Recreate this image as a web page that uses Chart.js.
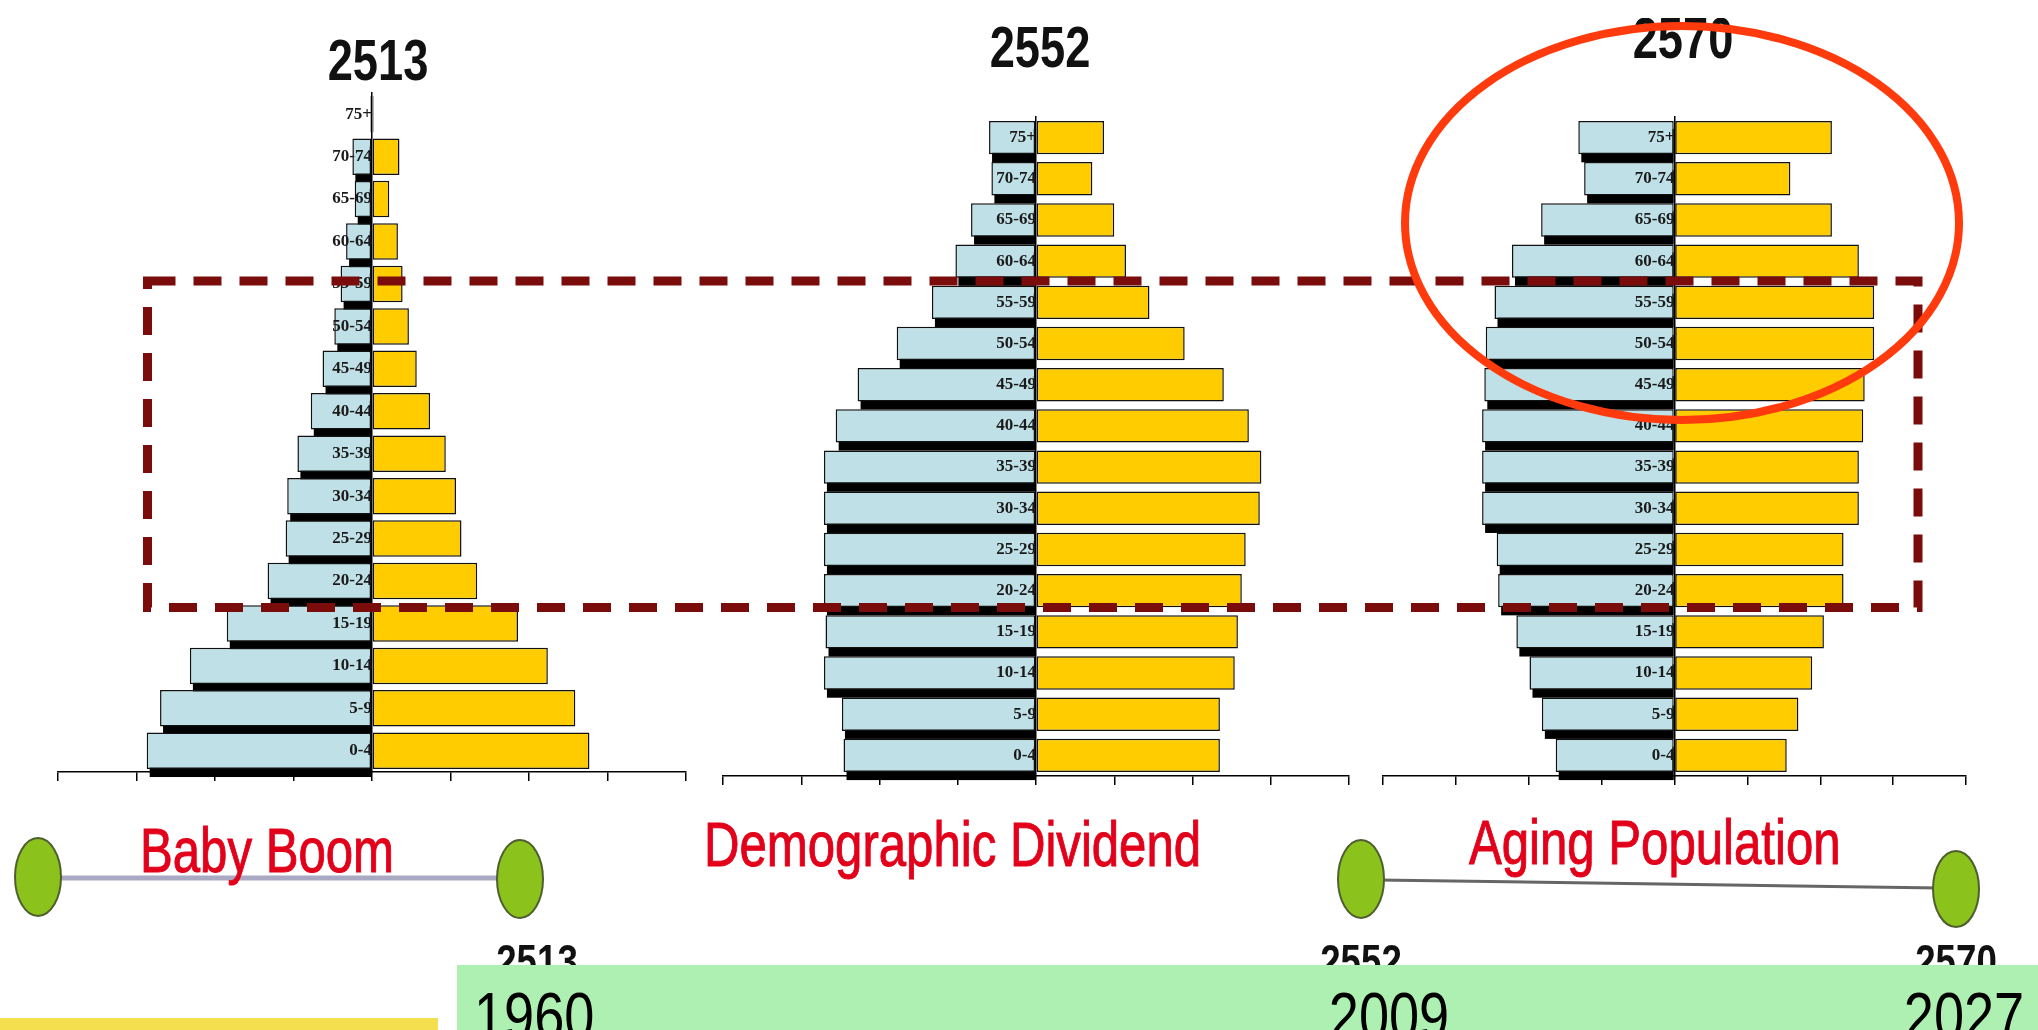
<!DOCTYPE html>
<html>
<head>
<meta charset="utf-8">
<script src="https://cdn.jsdelivr.net/npm/chart.js@4.4.1/dist/chart.umd.min.js"></script>
<style>
  html, body { margin:0; padding:0; background:#ffffff; width:2038px; height:1030px; overflow:hidden; }
  body { position:relative; }
  .cv { position:absolute; }
  .txt { position:absolute; white-space:nowrap; line-height:1;
         font-family:"Liberation Sans",Arial,sans-serif; }
  .red { color:#e2001a; font-size:63px; font-weight:normal; transform:scaleX(0.78); transform-origin:left top;
         -webkit-text-stroke:1px #e2001a; }
  .yr  { color:#111; font-size:47px; font-weight:bold; transform:translateX(-50%) scaleX(0.78); }
  .ttl { color:#111; font-size:58px; font-weight:bold; transform:translateX(-50%) scaleX(0.78); }
  .clip { position:absolute; overflow:hidden; }
  .band { position:absolute; left:457px; top:965px; width:1581px; height:65px; background:#aef0b2; overflow:hidden; }
  .btxt { position:absolute; white-space:nowrap; line-height:1; color:#000; font-size:66px; top:18px;
          font-family:"Liberation Sans",Arial,sans-serif; }
  #ybar { position:absolute; left:0; top:1018px; width:438px; height:12px; background:#f4df4e; }
  svg.ov { position:absolute; left:0; top:0; }
</style>
</head>
<body>
<div class="cv" style="left:0;top:0;"><canvas id="c1" width="720" height="800"></canvas></div>
<div class="cv" style="left:700px;top:0;"><canvas id="c2" width="680" height="800"></canvas></div>
<div class="cv" style="left:1360px;top:0;"><canvas id="c3" width="678" height="800"></canvas></div>

<!-- pyramid titles -->
<div class="txt ttl" id="t1" style="left:378px;top:31px;"></div>
<div class="txt ttl" id="t2" style="left:1040px;top:18px;"></div>
<div class="clip" style="left:1560px;top:18px;width:250px;height:60px;">
  <div class="txt ttl" id="t3" style="left:123px;top:-9px;"></div>
</div>

<svg class="ov" width="2038" height="1030" viewBox="0 0 2038 1030">
  <rect x="147.5" y="281" width="1770.5" height="326.5" fill="none" stroke="#7b0c0c" stroke-width="9" stroke-dasharray="28 18"/>
  <ellipse cx="1682" cy="223" rx="277" ry="197" fill="none" stroke="#ff3b0d" stroke-width="8"/>
  <line x1="55" y1="878" x2="505" y2="878" stroke="#a9a9c4" stroke-width="5"/>
  <line x1="1378" y1="880" x2="1940" y2="888" stroke="#666666" stroke-width="3"/>
  <ellipse cx="38" cy="877" rx="23" ry="39" fill="#8cc21c" stroke="#4f5f30" stroke-width="2"/>
  <ellipse cx="520" cy="879" rx="23" ry="39" fill="#8cc21c" stroke="#4f5f30" stroke-width="2"/>
  <ellipse cx="1361" cy="879" rx="23" ry="39" fill="#8cc21c" stroke="#4f5f30" stroke-width="2"/>
  <ellipse cx="1956" cy="889" rx="23" ry="38" fill="#8cc21c" stroke="#4f5f30" stroke-width="2"/>
</svg>

<div class="txt red" style="left:140px;top:819px;">Baby Boom</div>
<div class="txt red" style="left:704px;top:813px;">Demographic Dividend</div>
<div class="txt red" style="left:1469px;top:811px;">Aging Population</div>

<div class="txt yr" style="left:537px;top:937px;">2513</div>
<div class="txt yr" style="left:1361px;top:937px;">2552</div>
<div class="txt yr" style="left:1956px;top:937px;">2570</div>

<div class="band">
  <div class="btxt" style="left:17px;transform:scaleX(0.82);transform-origin:left top;">1960</div>
  <div class="btxt" style="left:932px;transform:translateX(-50%) scaleX(0.82);">2009</div>
  <div class="btxt" style="left:1507px;transform:translateX(-50%) scaleX(0.82);">2027</div>
</div>
<div id="ybar"></div>

<script>
// ---- data (tick units; left = male, right = female) ----
const AGE_GROUPS = ['75+','70-74','65-69','60-64','55-59','50-54','45-49','40-44',
                    '35-39','30-34','25-29','20-24','15-19','10-14','5-9','0-4'];

const TITLE_1 = '2513';
const MALE_2513   = [0.02,0.25,0.22,0.33,0.40,0.48,0.63,0.78,0.95,1.08,1.10,1.33,1.85,2.32,2.70,2.87];
const FEMALE_2513 = [0.02,0.35,0.22,0.33,0.39,0.47,0.57,0.74,0.94,1.07,1.14,1.34,1.86,2.24,2.59,2.77];

const TITLE_2 = '2552';
const MALE_2552   = [0.60,0.57,0.83,1.03,1.33,1.78,2.28,2.56,2.71,2.71,2.71,2.71,2.69,2.71,2.48,2.46];
const FEMALE_2552 = [0.87,0.72,1.00,1.15,1.45,1.90,2.40,2.72,2.88,2.86,2.68,2.63,2.58,2.54,2.35,2.35];

const TITLE_3 = '2570';
const MALE_2570   = [1.32,1.24,1.83,2.23,2.47,2.59,2.61,2.64,2.64,2.64,2.44,2.42,2.17,1.99,1.82,1.63];
const FEMALE_2570 = [2.16,1.59,2.16,2.53,2.74,2.74,2.61,2.59,2.53,2.53,2.32,2.32,2.05,1.89,1.70,1.54];

const X_MIN = -4, X_MAX = 4, X_STEP = 1;

document.getElementById('t1').textContent = TITLE_1;
document.getElementById('t2').textContent = TITLE_2;
document.getElementById('t3').textContent = TITLE_3;

// black drop shadow under the male bars
const shadowPlugin = {
  id: 'maleShadow',
  beforeDatasetsDraw(chart) {
    const meta = chart.getDatasetMeta(0);
    const ctx = chart.ctx;
    ctx.save();
    ctx.fillStyle = '#000';
    meta.data.forEach(el => {
      const p = el.getProps(['x','y','base','height'], true);
      const l = Math.min(p.x, p.base), r = Math.max(p.x, p.base);
      if (r - l < 2) return;
      ctx.fillRect(l + 3, p.y - p.height / 2 + 8, r - l - 3, p.height);
    });
    ctx.restore();
  }
};

function makeChart(id, male, female, o) {
  return new Chart(document.getElementById(id), {
    type: 'bar',
    data: {
      labels: AGE_GROUPS,
      datasets: [
        { label: 'Male', data: male.map(v => -v), backgroundColor: '#bfe0e6',
          borderColor: '#111', borderWidth: 1.5, borderSkipped: false,
          barPercentage: o.bar, categoryPercentage: 1 },
        { label: 'Female', data: female, backgroundColor: '#ffcc00',
          borderColor: '#111', borderWidth: 1.5, borderSkipped: false,
          barPercentage: o.bar, categoryPercentage: 1 }
      ]
    },
    options: {
      indexAxis: 'y',
      responsive: false,
      animation: false,
      layout: { padding: o.pad },
      plugins: { legend: { display: false }, tooltip: { enabled: false }, title: { display: false } },
      scales: {
        x: { type: 'linear', min: X_MIN, max: X_MAX, stacked: true,
             ticks: { stepSize: X_STEP, display: false },
             grid: { display: true, drawOnChartArea: false, drawTicks: true, tickLength: 9,
                     color: '#000', lineWidth: 1.5 },
             border: { display: true, color: '#000', width: 1.5 } },
        y: { type: 'category', stacked: true, position: { x: 0 }, offset: true,
             ticks: { color: '#1a1a1a', padding: 4, z: 2,
                      font: { family: '"Liberation Serif","Times New Roman",serif', size: 17, weight: 'bold' } },
             grid: { display: true, drawOnChartArea: false, drawTicks: false },
             border: { display: true, color: '#000', width: 1.5, z: 2 } }
      }
    },
    plugins: [shadowPlugin]
  });
}

makeChart('c1', MALE_2513, FEMALE_2513, { bar: 0.86, pad: { left: 58, right: 34, top: 93, bottom: 19 } });
makeChart('c2', MALE_2552, FEMALE_2552, { bar: 0.81, pad: { left: 23, right: 31, top: 117, bottom: 15 } });
makeChart('c3', MALE_2570, FEMALE_2570, { bar: 0.81, pad: { left: 23, right: 72, top: 117, bottom: 15 } });
</script>
</body>
</html>
